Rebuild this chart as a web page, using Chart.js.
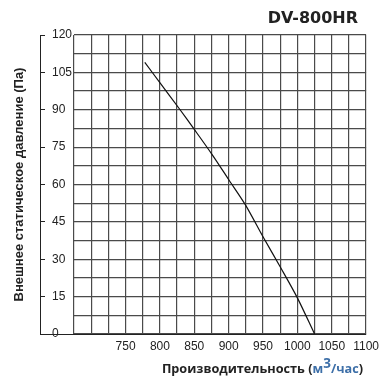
<!DOCTYPE html>
<html>
<head>
<meta charset="utf-8">
<script src="https://cdn.jsdelivr.net/npm/chart.js@4/dist/chart.umd.min.js"></script>
<style>
  html, body { margin: 0; padding: 0; background: #fff; }
  #wrap { position: relative; width: 384px; height: 379px; }
  #c { position: absolute; left: 0; top: 0; }
  #title { position: absolute; right: 26px; top: 7px; font: bold 16px "DejaVu Sans", sans-serif; color: #222; line-height: 22px; }
  #xtitle { position: absolute; right: 21px; top: 360px; font: bold 12.7px "Open Sans", sans-serif; color: #222; line-height: 16px; white-space: nowrap; }
  #xtitle .u { color: #3d6fa8; }
  #xtitle sup { font-size: 13.5px; position: relative; top: -5px; vertical-align: baseline; line-height: 0; }
</style>
</head>
<body>
<div id="wrap">
  <canvas id="c" width="384" height="379"></canvas>
  <div id="title">DV-800HR</div>
  <div id="xtitle">Производительность (<span class="u">м<sup>3</sup>/час</span>)</div>
</div>
<script>
// Data
const flow = [778, 801, 828, 849, 876, 900, 924, 950, 976, 1000, 1025];          // м3/час
const pressure = [109, 100.5, 90.5, 82.5, 72, 62, 52, 39, 26.5, 14.5, 0];         // Па
const xLabels = [750, 800, 850, 900, 950, 1000, 1050, 1100];                     // shown x tick labels
const yLabels = [0, 15, 30, 45, 60, 75, 90, 105, 120];                           // shown y tick labels
const baseTick = [0];
const xMin = 675, xMax = 1100, xGridStep = 25;
const yMin = 0, yMax = 120, yGridStep = 7.5;

const gridColor = '#4a4a4a';
const inkColor = '#222';
const tickFont = { family: '"Liberation Sans", Arial, sans-serif', size: 12 };

const points = flow.map((x, i) => ({ x, y: pressure[i] }));

new Chart(document.getElementById('c'), {
  type: 'line',
  data: {
    datasets: [{
      data: points,
      xAxisID: 'x',
      yAxisID: 'y',
      borderColor: '#111',
      borderWidth: 1.2,
      pointRadius: 0,
      tension: 0.3,
      fill: false
    }]
  },
  options: {
    responsive: false,
    animation: false,
    devicePixelRatio: 1,
    layout: { padding: { top: 35, right: 15, bottom: 0, left: 0 } },
    plugins: { legend: { display: false }, tooltip: { enabled: false }, title: { display: false } },
    scales: {
      x: {
        type: 'linear',
        min: xMin, max: xMax,
        ticks: {
          stepSize: xGridStep,
          autoSkip: false,
          maxRotation: 0,
          padding: 5,
          color: inkColor,
          font: tickFont,
          callback: v => xLabels.includes(v) ? String(v) : ''
        },
        grid: { color: gridColor, lineWidth: 1.2, drawTicks: false },
        border: { display: true, color: inkColor, width: 1 },
        afterFit: s => { s.height = 45; }
      },
      y: {
        type: 'linear',
        position: 'left',
        weight: 0,
        min: yMin, max: yMax,
        ticks: { stepSize: yGridStep, display: false },
        grid: { color: gridColor, lineWidth: 1.2, drawTicks: false },
        border: { display: false },
        afterFit: s => { s.width = 34; }
      },
      yBase: {
        type: 'linear',
        position: 'left',
        weight: 1,
        min: yMin, max: yMax,
        afterBuildTicks: s => { s.ticks = baseTick.map(v => ({ value: v })); },
        ticks: { display: false },
        grid: { drawOnChartArea: false, drawTicks: true, tickLength: -34, color: inkColor, lineWidth: 1 },
        border: { display: false },
        afterFit: s => { s.width = 0; }
      },
      yOuter: {
        type: 'linear',
        position: 'left',
        weight: 2,
        min: yMin, max: yMax,
        afterBuildTicks: s => { s.ticks = yLabels.map(v => ({ value: v })); },
        ticks: {
          mirror: true,
          padding: 12,
          color: inkColor,
          font: tickFont,
          callback: v => String(v)
        },
        grid: { drawOnChartArea: false, drawTicks: true, tickLength: -5, color: inkColor, lineWidth: 1 },
        border: { display: true, color: inkColor, width: 1 },
        title: {
          display: true,
          text: 'Внешнее статическое давление (Па)',
          color: inkColor,
          font: { family: '"Liberation Sans", Arial, sans-serif', size: 13, weight: 'bold' },
          padding: { top: 12, bottom: 0 }
        },
        afterFit: s => { s.width = 40; }
      }
    }
  }
});
</script>
</body>
</html>
